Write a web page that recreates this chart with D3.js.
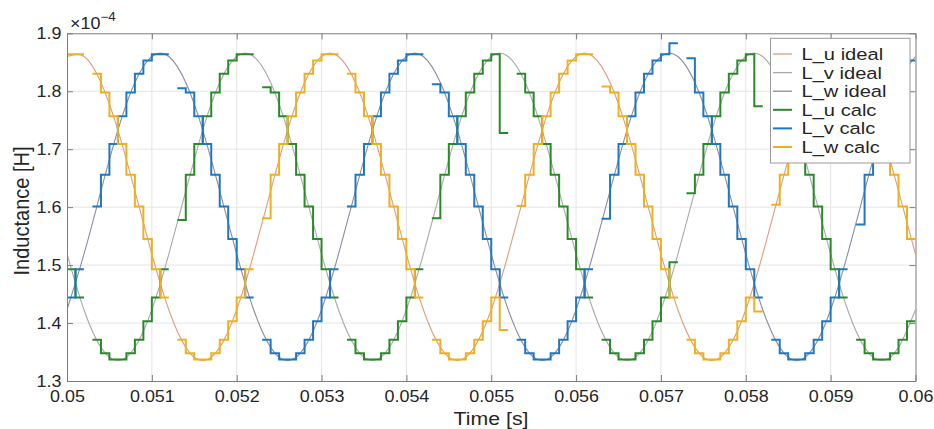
<!DOCTYPE html>
<html><head><meta charset="utf-8">
<script src="https://cdn.jsdelivr.net/npm/d3@7"></script>
<style>
body{margin:0;background:#fff;}
svg{display:block;}
text{font-family:"Liberation Sans",Arial,sans-serif;fill:#262626;}
</style>
</head><body><svg id="c" width="934" height="429"></svg>
<script>
// ---------- data (inductance in units of 1e-4 H) ----------
const xTicks = [0.05,0.051,0.052,0.053,0.054,0.055,0.056,0.057,0.058,0.059,0.06];
const xTickLabels = ["0.05","0.051","0.052","0.053","0.054","0.055","0.056","0.057","0.058","0.059","0.06"];
const yTicks = [1.3,1.4,1.5,1.6,1.7,1.8,1.9];
const yTickLabels = ["1.3","1.4","1.5","1.6","1.7","1.8","1.9"];
const seriesNames = ["L_u ideal","L_v ideal","L_w ideal","L_u calc","L_v calc","L_w calc"];

// ideal curves sampled every 0.2 ms from t = 0.05 s
const idealStart = 0.05, idealStep = 0.0002;
const luIdeal = [1.860,1.860,1.815,1.733,1.628,1.519,1.423,1.358,1.335,1.358,1.423,1.519,1.628,1.733,1.815,
                 1.860,1.860,1.815,1.733,1.628,1.519,1.423,1.358,1.335,1.358,1.423,1.519,1.628,1.733,1.815,
                 1.860,1.860,1.815,1.733,1.628,1.519,1.423,1.358,1.335,1.358,1.423,1.519,1.628,1.733,1.815,
                 1.860,1.860,1.815,1.733,1.628,1.519];
const lvIdeal = [1.519,1.423,1.358,1.335,1.358,1.423,1.519,1.628,1.733,1.815,1.860,1.860,1.815,1.733,1.628,
                 1.519,1.423,1.358,1.335,1.358,1.423,1.519,1.628,1.733,1.815,1.860,1.860,1.815,1.733,1.628,
                 1.519,1.423,1.358,1.335,1.358,1.423,1.519,1.628,1.733,1.815,1.860,1.860,1.815,1.733,1.628,
                 1.519,1.423,1.358,1.335,1.358,1.423];
const lwIdeal = [1.423,1.519,1.628,1.733,1.815,1.860,1.860,1.815,1.733,1.628,1.519,1.423,1.358,1.335,1.358,
                 1.423,1.519,1.628,1.733,1.815,1.860,1.860,1.815,1.733,1.628,1.519,1.423,1.358,1.335,1.358,
                 1.423,1.519,1.628,1.733,1.815,1.860,1.860,1.815,1.733,1.628,1.519,1.423,1.358,1.335,1.358,
                 1.423,1.519,1.628,1.733,1.815,1.860];

// calculated (held) values, one per 0.1 ms interval starting at t = 0.0499 s; null = no value
const calcStart = 0.0499, calcStep = 0.0001;
const luCalc = [1.545,
 1.493,1.444,null,1.371,1.348,1.337,1.337,1.348,1.371,1.403,
 1.444,1.493,null,1.578,1.656,1.709,1.757,1.798,1.830,1.853,
 1.864,1.864,null,1.807,1.798,1.757,1.709,1.656,1.601,1.545,
 1.493,1.444,null,1.371,1.348,1.337,1.337,1.348,1.371,1.403,
 1.444,1.493,null,1.581,1.656,1.709,1.757,1.798,1.830,1.853,
 1.864,1.728,null,1.830,1.798,1.757,1.709,1.656,1.601,1.545,
 1.493,1.444,null,1.371,1.348,1.337,1.337,1.348,1.371,1.403,
 1.444,1.505,null,1.624,1.656,1.709,1.757,1.798,1.830,1.853,
 1.864,1.774,null,1.830,1.798,1.757,1.709,1.656,1.601,1.545,
 1.493,1.444,null,1.371,1.348,1.337,1.337,1.348,1.371,1.403];
const lvCalc = [1.403,
 1.444,1.493,null,1.601,1.656,1.709,1.757,1.798,1.830,1.853,
 1.864,1.864,null,1.805,1.798,1.757,1.709,1.656,1.601,1.545,
 1.493,1.444,null,1.371,1.348,1.337,1.337,1.348,1.371,1.403,
 1.444,1.493,null,1.601,1.656,1.709,1.757,1.798,1.830,1.853,
 1.864,1.864,null,1.812,1.798,1.757,1.709,1.656,1.601,1.545,
 1.493,1.444,null,1.371,1.348,1.337,1.337,1.348,1.371,1.403,
 1.444,1.493,null,1.580,1.656,1.709,1.757,1.798,1.830,1.853,
 1.864,1.883,null,1.857,1.798,1.757,1.709,1.656,1.601,1.545,
 1.493,1.444,null,1.371,1.348,1.337,1.337,1.348,1.371,1.403,
 1.444,1.493,null,1.570,1.656,1.709,1.757,1.798,1.830,1.853];
const lwCalc = [1.853,
 1.864,1.864,null,1.830,1.798,1.757,1.709,1.656,1.601,1.545,
 1.493,1.444,null,1.371,1.348,1.337,1.337,1.348,1.371,1.403,
 1.444,1.493,null,1.581,1.656,1.709,1.757,1.798,1.830,1.853,
 1.864,1.864,null,1.830,1.798,1.757,1.709,1.656,1.601,1.545,
 1.493,1.444,null,1.371,1.348,1.337,1.337,1.348,1.371,1.403,
 1.444,1.388,null,1.602,1.656,1.709,1.757,1.798,1.830,1.853,
 1.864,1.864,null,1.808,1.798,1.757,1.709,1.656,1.601,1.545,
 1.493,1.444,null,1.371,1.348,1.337,1.337,1.348,1.371,1.403,
 1.444,1.420,null,1.604,1.656,1.709,1.757,1.798,1.830,1.853,
 1.864,1.864,null,1.830,1.798,1.757,1.709,1.656,1.601,1.545];

// ---------- layout / style ----------
const M = {left:67, right:915.5, top:33.3, bottom:381};
const colors = {
  luIdeal:"#e39a7c", lvIdeal:"#a9a9a9", lwIdeal:"#8b8ba6",
  luCalc:"#2a8a2a", lvCalc:"#1f78c4", lwCalc:"#edb120"
};
const axisColor = "#7d7d7d", gridColor = "#e4e4e4";
const SX = 1.12; // horizontal glyph stretch seen in the reference

const svg = d3.select("#c");
svg.append("rect").attr("width",934).attr("height",429).attr("fill","#fff");

const x = d3.scaleLinear().domain([0.05,0.06]).range([M.left,M.right]);
const y = d3.scaleLinear().domain([1.3,1.9]).range([M.bottom,M.top]);

svg.append("clipPath").attr("id","plotclip").append("rect")
  .attr("x",M.left).attr("y",M.top).attr("width",M.right-M.left).attr("height",M.bottom-M.top);

// grid
const grid = svg.append("g");
xTicks.slice(1,-1).forEach(t=>{
  grid.append("line").attr("x1",x(t)).attr("x2",x(t)).attr("y1",M.top).attr("y2",M.bottom)
    .attr("stroke",gridColor).attr("stroke-width",1);
});
yTicks.slice(1,-1).forEach(v=>{
  grid.append("line").attr("x1",M.left).attr("x2",M.right).attr("y1",y(v)).attr("y2",y(v))
    .attr("stroke",gridColor).attr("stroke-width",1);
});

const plot = svg.append("g").attr("clip-path","url(#plotclip)");

// ideal curves
const idealLine = d3.line().x(d=>x(d.t)).y(d=>y(d.v)).curve(d3.curveNatural);
function idealPts(arr){ return arr.map((v,i)=>({t: idealStart + i*idealStep, v})); }
[["luIdeal",luIdeal],["lvIdeal",lvIdeal],["lwIdeal",lwIdeal]].forEach(([k,arr])=>{
  plot.append("path").datum(idealPts(arr)).attr("d",idealLine)
    .attr("fill","none").attr("stroke",colors[k]).attr("stroke-width",1.1);
});

// calc staircase curves
const stepLine = d3.line().x(d=>x(d.t)).y(d=>y(d.v)).curve(d3.curveStepAfter);
function runs(arr){
  const out=[]; let cur=null;
  arr.forEach((v,i)=>{
    if(v==null){ if(cur){ out.push(cur); cur=null; } return; }
    const t = calcStart + i*calcStep;
    if(!cur) cur=[];
    cur.push({t, v});
    cur.last = {t: calcStart + (i+1)*calcStep, v};
  });
  if(cur) out.push(cur);
  return out.map(r=>{ const p=r.slice(); p.push(r.last); return p; });
}
[["luCalc",luCalc],["lvCalc",lvCalc],["lwCalc",lwCalc]].forEach(([k,arr])=>{
  runs(arr).forEach(seg=>{
    plot.append("path").datum(seg).attr("d",stepLine)
      .attr("fill","none").attr("stroke",colors[k]).attr("stroke-width",2)
      .attr("stroke-linejoin","miter");
  });
});

// axes
function styleAxis(g){
  g.selectAll("path.domain").attr("stroke",axisColor).attr("stroke-width",1);
  g.selectAll(".tick line").attr("stroke",axisColor).attr("stroke-width",1);
  g.selectAll("text").attr("fill","#262626").style("font-family",'"Liberation Sans",Arial,sans-serif');
}
const xAxis = svg.append("g").attr("transform",`translate(0,${M.bottom})`)
  .call(d3.axisBottom(x).tickValues(xTicks).tickFormat((d,i)=>xTickLabels[i])
        .tickSizeInner(-6).tickSizeOuter(0).tickPadding(10));
xAxis.selectAll("text").style("font-size","16px").attr("transform",`scale(${SX},1)`);
styleAxis(xAxis);

const yAxis = svg.append("g").attr("transform",`translate(${M.left},0)`)
  .call(d3.axisLeft(y).tickValues(yTicks).tickFormat((d,i)=>yTickLabels[i])
        .tickSizeInner(-6).tickSizeOuter(0).tickPadding(5));
yAxis.selectAll("text").style("font-size","16px").attr("transform",`scale(${SX},1)`);
styleAxis(yAxis);

const xTop = svg.append("g").attr("transform",`translate(0,${M.top})`)
  .call(d3.axisTop(x).tickValues(xTicks).tickFormat("").tickSizeInner(-6).tickSizeOuter(0));
styleAxis(xTop);
const yRight = svg.append("g").attr("transform",`translate(${M.right},0)`)
  .call(d3.axisRight(y).tickValues(yTicks).tickFormat("").tickSizeInner(-6).tickSizeOuter(0));
styleAxis(yRight);

// exponent label
const expo = svg.append("text").attr("transform",`translate(70,28.5) scale(${SX},1)`)
  .style("font-size","16px");
expo.append("tspan").text("\u00d710");
expo.append("tspan").attr("dy",-8).style("font-size","12px").text("\u22124");

// axis labels
svg.append("text").attr("transform",`translate(491,425) scale(${SX},1)`)
  .attr("text-anchor","middle").style("font-size","19px").text("Time [s]");
svg.append("text").attr("transform",`translate(29,211) rotate(-90) scale(1,${SX})`)
  .attr("text-anchor","middle").style("font-size","20px").text("Inductance [H]");

// legend
const legKeys = ["luIdeal","lvIdeal","lwIdeal","luCalc","lvCalc","lwCalc"];
const leg = svg.append("g");
leg.append("rect").attr("x",770.5).attr("y",38.3).attr("width",139.5).attr("height",124.7)
  .attr("fill","#fff").attr("stroke","#9a9a9a").attr("stroke-width",1);
legKeys.forEach((k,i)=>{
  const cy = 54 + i*18.6;
  leg.append("line").attr("x1",773).attr("x2",792).attr("y1",cy).attr("y2",cy)
    .attr("stroke",colors[k]).attr("stroke-width", k.endsWith("Calc")?2:1.3);
  leg.append("text").attr("transform",`translate(801.5,${cy+6}) scale(1.22,1)`)
    .style("font-size","16.5px").text(seriesNames[i]);
});
</script></body></html>
